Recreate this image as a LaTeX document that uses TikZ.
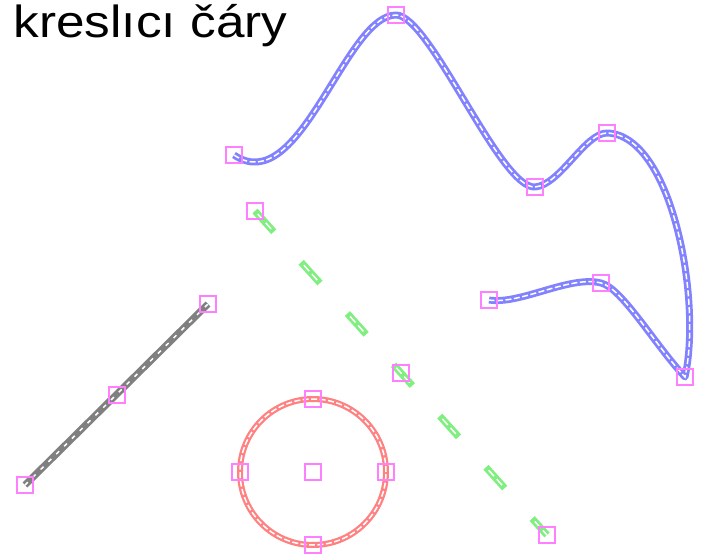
\documentclass[tikz,border=0pt]{standalone}
\usepackage{fontspec}
\setmainfont{Liberation Sans}
\definecolor{cblue}{HTML}{8282FF}
\definecolor{cgreen}{HTML}{80EE80}
\definecolor{cred}{HTML}{FF8282}
\definecolor{cgray}{HTML}{808080}
\definecolor{cmark}{HTML}{FF80FF}
\begin{document}
\begin{tikzpicture}[x=1pt,y=-1pt,
  marker/.style={draw=cmark,line width=1.4pt,minimum size=16pt,inner sep=0pt,fill=none},
  inner/.style={draw=white,line width=1.5pt,dash pattern=on 6pt off 2.5pt},
]
\useasboundingbox (0,0) rectangle (707,554);
\node[anchor=base west,inner sep=0pt,font=\fontsize{45}{52}\selectfont] (title) at (13.5,37) {\scalebox{1.14}[1]{kreslıcı čáry}};

% blue curve points
\coordinate (b1) at (234,155);
\coordinate (b2) at (396,15);
\coordinate (b3) at (535,187);
\coordinate (b4) at (607,133);
\coordinate (b5) at (685,377);
\coordinate (b6) at (601,283);
\coordinate (b7) at (489,300);
\def\bluepath{(b1) .. controls (300,200) and (345,15) .. (b2)
  .. controls (430,15) and (500,189) .. (b3)
  .. controls (560,185) and (585,133) .. (b4)
  .. controls (672,135) and (702,300) .. (b5)
  .. controls (655,345) and (622,288) .. (b6)
  .. controls (570,275) and (520,305) .. (b7)}
\draw[cblue,line width=7pt,line join=round] \bluepath;
\draw[inner] \bluepath;

% green dashed line
\coordinate (g1) at (255,211);
\coordinate (g2) at (401,373);
\coordinate (g3) at (547,535);
\draw[cgreen,line width=7pt,dash pattern=on 28pt off 41pt] (g1) -- (g3);
\draw[white,line width=1.5pt,dash pattern=on 0pt off 4pt on 8pt off 4pt on 8pt off 45pt] (g1) -- (g3);

% gray line
\coordinate (k1) at (25,485);
\coordinate (k2) at (117,395);
\coordinate (k3) at (208,304);
\draw[cgray,line width=7pt] (k1) -- (k3);
\draw[white,line width=1.5pt,dash pattern=on 4pt off 7pt] (k1) -- (k3);

% red circle
\coordinate (c0) at (313,472);
\draw[cred,line width=6pt] (c0) circle (73pt);
\draw[inner] (c0) circle (73pt);

% markers
\foreach \p in {b1,b2,b3,b4,b5,b6,b7,g1,g2,g3,k1,k2,k3,c0}
  \node[marker] (m-\p) at (\p) {};
\node[marker] (m-ct) at (313,399) {};
\node[marker] (m-cb) at (313,545) {};
\node[marker] (m-cl) at (240,472) {};
\node[marker] (m-cr) at (386,472) {};
\end{tikzpicture}
\end{document}
